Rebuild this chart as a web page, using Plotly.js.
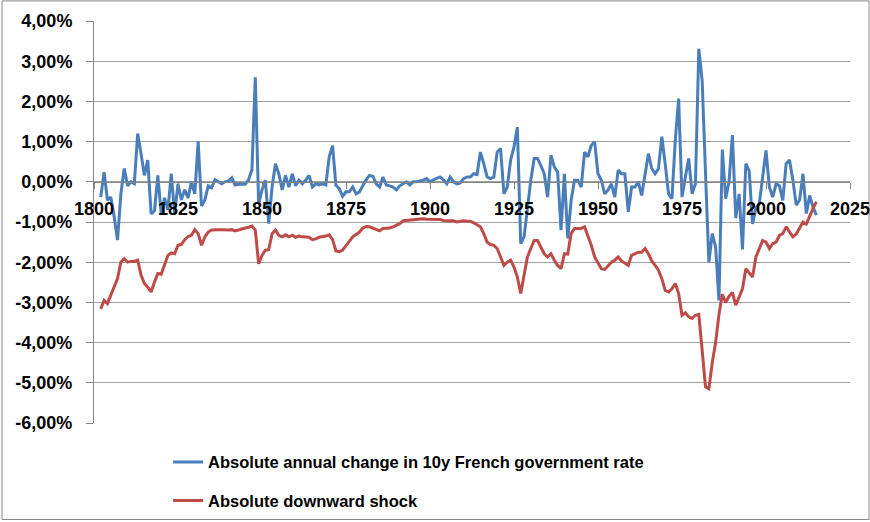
<!DOCTYPE html>
<html>
<head>
<meta charset="utf-8">
<script src="https://cdn.plot.ly/plotly-3.0.1.min.js"></script>
<style>
html,body{margin:0;padding:0;background:#fff;}
#chart{width:870px;height:522px;}
</style>
</head>
<body>
<div id="chart"></div>
<script>
var years = [1802,1803,1804,1805,1806,1807,1808,1809,1810,1811,1812,1813,1814,1815,1816,1817,1818,1819,1820,
1821,1822,1823,1824,1825,1826,1827,1828,1829,1830,1831,1832,1833,1834,1835,1836,1837,1838,1839,1840,
1841,1842,1843,1844,1845,1846,1847,1848,1849,1850,1851,1852,1853,1854,1855,1856,1857,1858,1859,1860,
1861,1862,1863,1864,1865,1866,1867,1868,1869,1870,1871,1872,1873,1874,1875,1876,1877,1878,1879,1880,
1881,1882,1883,1884,1885,1886,1887,1888,1889,1890,1891,1892,1893,1894,1895,1896,1897,1898,1899,1900,
1901,1902,1903,1904,1905,1906,1907,1908,1909,1910,1911,1912,1913,1914,1915,1916,1917,1918,1919,1920,
1921,1922,1923,1924,1925,1926,1927,1928,1929,1930,1931,1932,1933,1934,1935,1936,1937,1938,1939,1940,
1941,1942,1943,1944,1945,1946,1947,1948,1949,1950,1951,1952,1953,1954,1955,1956,1957,1958,1959,1960,
1961,1962,1963,1964,1965,1966,1967,1968,1969,1970,1971,1972,1973,1974,1975,1976,1977,1978,1979,1980,
1981,1982,1983,1984,1985,1986,1987,1988,1989,1990,1991,1992,1993,1994,1995,1996,1997,1998,1999,2000,
2001,2002,2003,2004,2005,2006,2007,2008,2009,2010,2011,2012,2013,2014,2015];

// Absolute annual change in 10y French government rate (%)
var annualChange = [-0.38,0.24,-0.46,-0.38,-0.87,-1.45,-0.3,0.33,-0.1,0.0,-0.05,1.2,0.7,0.16,0.54,-0.8,-0.72,0.16,-0.8,
-0.4,-0.7,0.2,-0.8,-0.05,-0.45,-0.2,-0.4,0.0,-0.3,1.0,-0.6,-0.45,-0.1,-0.15,0.05,0.0,-0.05,0.0,0.02,
0.1,-0.08,-0.06,-0.06,-0.06,0.05,0.3,2.6,-0.55,-0.2,0.04,-1.04,-0.13,0.45,0.2,-0.2,0.16,-0.13,0.2,-0.1,
0.04,-0.05,0.04,0.16,-0.13,-0.05,-0.08,-0.05,-0.08,0.62,0.9,-0.09,-0.17,-0.36,-0.25,-0.25,-0.13,-0.3,-0.25,-0.1,
0.05,0.16,0.14,-0.05,-0.13,0.12,-0.08,-0.1,-0.13,-0.2,-0.1,-0.05,0.0,-0.08,0.0,0.0,0.02,0.04,0.08,0.0,
0.05,0.08,0.12,0.05,-0.05,0.12,0.0,-0.05,-0.03,0.08,0.12,0.12,0.2,0.18,0.74,0.45,0.12,0.08,0.12,0.74,
0.83,-0.3,-0.13,0.54,0.87,1.36,-1.54,-1.37,-0.63,0.04,0.58,0.58,0.4,0.2,-0.38,0.66,0.37,0.24,-1.2,0.2,
-1.41,-0.46,0.04,0.04,-0.13,0.74,0.62,0.91,0.99,0.2,0.04,-0.3,-0.2,-0.05,-0.38,0.29,0.2,0.2,-0.75,-0.13,
-0.13,0.0,-0.34,0.24,0.7,0.33,0.2,0.33,1.12,0.45,-0.3,-0.42,1.03,2.07,-0.38,0.12,0.58,-0.3,-0.05,3.31,
2.52,0.2,-2.0,-1.29,-1.62,-2.95,0.8,-0.42,0.0,1.16,-0.9,-0.3,-1.68,0.45,0.27,-1.05,-0.65,-0.55,0.1,0.78,
-0.13,-0.38,-0.05,-0.1,-0.46,0.45,0.54,0.04,-0.58,-0.45,0.2,-0.79,-0.34,-0.63,-0.83];

// Absolute downward shock (%)
var downwardShock = [-3.16,-2.95,-3.03,-2.82,-2.66,-2.41,-2.0,-1.91,-2.0,-1.98,-1.98,-1.95,-2.32,-2.53,-2.62,-2.74,-2.49,-2.28,-2.3,
-2.04,-1.83,-1.77,-1.79,-1.58,-1.56,-1.44,-1.36,-1.33,-1.19,-1.29,-1.58,-1.37,-1.25,-1.2,-1.19,-1.19,-1.19,-1.2,-1.2,
-1.19,-1.22,-1.2,-1.17,-1.15,-1.13,-1.1,-1.2,-2.04,-1.83,-1.7,-1.69,-1.29,-1.2,-1.33,-1.37,-1.32,-1.37,-1.33,-1.38,
-1.35,-1.37,-1.37,-1.38,-1.44,-1.42,-1.38,-1.37,-1.35,-1.32,-1.44,-1.72,-1.74,-1.7,-1.58,-1.46,-1.37,-1.31,-1.25,-1.15,
-1.11,-1.12,-1.16,-1.2,-1.22,-1.16,-1.16,-1.15,-1.12,-1.08,-1.04,-0.97,-0.96,-0.95,-0.94,-0.93,-0.93,-0.92,-0.93,-0.93,
-0.94,-0.94,-0.94,-0.96,-0.97,-0.97,-0.97,-1.0,-0.98,-0.97,-0.98,-0.98,-1.02,-1.06,-1.12,-1.29,-1.5,-1.56,-1.58,-1.66,
-1.87,-2.08,-2.0,-1.95,-2.12,-2.37,-2.78,-2.37,-1.87,-1.66,-1.46,-1.46,-1.62,-1.79,-1.87,-1.79,-1.95,-2.08,-2.16,-1.79,
-1.8,-1.29,-1.16,-1.16,-1.16,-1.12,-1.33,-1.58,-1.87,-2.0,-2.16,-2.18,-2.08,-2.0,-1.95,-1.87,-1.97,-2.02,-2.08,-1.83,
-1.79,-1.75,-1.75,-1.66,-1.79,-1.97,-2.08,-2.2,-2.41,-2.7,-2.74,-2.66,-2.53,-2.78,-3.32,-3.26,-3.36,-3.4,-3.32,-3.3,
-4.19,-5.1,-5.15,-4.5,-4.0,-3.3,-2.8,-3.0,-2.85,-2.75,-3.07,-2.85,-2.66,-2.16,-2.28,-2.37,-1.87,-1.66,-1.46,-1.5,
-1.66,-1.54,-1.5,-1.33,-1.29,-1.12,-1.25,-1.37,-1.3,-1.16,-1.0,-1.05,-0.83,-0.66,-0.5];

var seriesNames = ['Absolute annual change in 10y French government rate', 'Absolute downward shock'];
var xTickVals = [1800,1825,1850,1875,1900,1925,1950,1975,2000,2025];
var yTickVals = [4,3,2,1,0,-1,-2,-3,-4,-5,-6];
var yTickText = ['4,00%','3,00%','2,00%','1,00%','0,00%','-1,00%','-2,00%','-3,00%','-4,00%','-5,00%','-6,00%'];

var FONT = 'Liberation Sans, Arial, sans-serif';
var legendFont = {family: FONT, size: 16.5, weight: 'bold', color: '#000'};

var traces = [
  {x: years, y: annualChange, type: 'scatter', mode: 'lines', name: seriesNames[0], legend: 'legend',
   line: {color: '#4A7EBB', width: 3}},
  {x: years, y: downwardShock, type: 'scatter', mode: 'lines', name: seriesNames[1], legend: 'legend2',
   line: {color: '#BE4B48', width: 3}}
];

var layout = {
  width: 870, height: 522,
  margin: {l: 94, r: 20, t: 21, b: 99, autoexpand: false},
  paper_bgcolor: '#ffffff', plot_bgcolor: '#ffffff',
  font: {family: FONT, color: '#000000'},
  showlegend: true,
  legend: {x: 0.098, xanchor: 'left', y: -0.0542, yanchor: 'top', font: legendFont, bgcolor: 'rgba(0,0,0,0)'},
  legend2: {x: 0.098, xanchor: 'left', y: -0.15, yanchor: 'top', font: legendFont, bgcolor: 'rgba(0,0,0,0)'},
  xaxis: {
    range: [1800, 2025], tickvals: xTickVals, ticktext: xTickVals.map(String),
    anchor: 'free', position: 0.6,
    showgrid: false, zeroline: false,
    showline: true, linecolor: '#868686', linewidth: 1,
    ticks: 'outside', ticklen: 6, tickcolor: '#868686',
    ticklabelstandoff: 5, ticklabeloverflow: 'allow',
    tickfont: {family: FONT, size: 18, weight: 'bold', color: '#000'}
  },
  yaxis: {
    range: [-6, 4], tickvals: yTickVals, ticktext: yTickText,
    showgrid: true, gridcolor: '#a0a0a0', gridwidth: 1, zeroline: false,
    showline: true, linecolor: '#868686', linewidth: 1,
    ticks: 'outside', ticklen: 7, tickcolor: '#868686',
    ticklabelstandoff: 10,
    tickfont: {family: FONT, size: 18, weight: 'bold', color: '#000'}
  },
  shapes: [
    {type: 'rect', xref: 'paper', yref: 'paper', x0: -0.1217, x1: 1.0252, y0: -0.24, y1: 1.05,
     line: {color: '#888888', width: 1}, fillcolor: 'rgba(0,0,0,0)', layer: 'below'}
  ]
};

Plotly.newPlot('chart', traces, layout, {displayModeBar: false, staticPlot: true});
</script>
</body>
</html>
